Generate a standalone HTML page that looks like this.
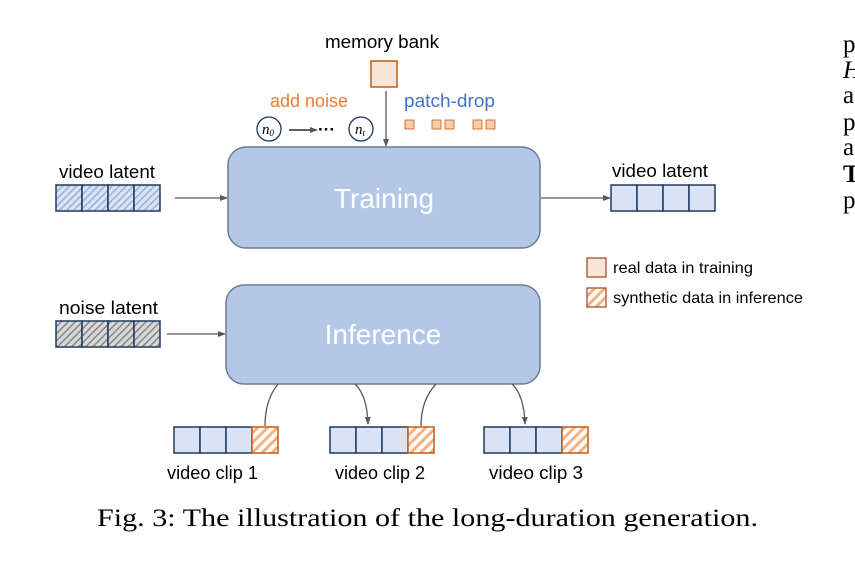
<!DOCTYPE html>
<html><head><meta charset="utf-8"><style>
html,body{margin:0;padding:0;background:#fff;}
svg{display:block;}
</style></head><body>
<svg width="855" height="570" viewBox="0 0 855 570" xmlns="http://www.w3.org/2000/svg">
<defs>
<pattern id="hb" width="5" height="5" patternUnits="userSpaceOnUse" patternTransform="rotate(45)">
<rect width="5" height="5" fill="#dae3f3"/><rect width="1.6" height="5" fill="#9db3d9"/></pattern>
<pattern id="hg" width="5" height="5" patternUnits="userSpaceOnUse" patternTransform="rotate(45)">
<rect width="5" height="5" fill="#d9d9d9"/><rect width="1.6" height="5" fill="#8a8a8a"/></pattern>
<pattern id="ho" width="7" height="7" patternUnits="userSpaceOnUse" patternTransform="rotate(45)">
<rect width="7" height="7" fill="#fff"/><rect width="3" height="7" fill="#f4b183"/></pattern>
<marker id="ar" markerWidth="8" markerHeight="8" refX="7" refY="4" orient="auto" markerUnits="userSpaceOnUse">
<path d="M0,1 L8,4 L0,7 z" fill="#595959"/></marker>
</defs>
<g font-family="Liberation Sans, sans-serif">
<text x="325" y="48" font-size="18" textLength="114" lengthAdjust="spacingAndGlyphs">memory bank</text>
<rect x="371" y="61" width="26" height="26" fill="#fbe5d6" stroke="#c55a11" stroke-width="1.5"/>
<line x1="386" y1="91" x2="386" y2="146" stroke="#595959" stroke-width="1.3" marker-end="url(#ar)"/>
<text x="270" y="107" font-size="18" fill="#ed7d31" textLength="78" lengthAdjust="spacingAndGlyphs">add noise</text>
<text x="404" y="107" font-size="18" fill="#4472c4" textLength="91" lengthAdjust="spacingAndGlyphs">patch-drop</text>
<g fill="#f8cbad" stroke="#c55a11" stroke-width="0.8">
<rect x="405" y="120" width="9" height="9"/><rect x="432" y="120" width="9" height="9"/><rect x="445" y="120" width="9" height="9"/>
<rect x="473" y="120" width="9" height="9"/><rect x="486" y="120" width="9" height="9"/></g>
<circle cx="269" cy="129" r="12" fill="none" stroke="#1f3864" stroke-width="1.3"/>
<text x="268" y="134" font-size="15" font-style="italic" font-family="Liberation Serif, serif" text-anchor="middle">n<tspan font-size="9" dy="2">0</tspan></text>
<line x1="289" y1="130" x2="317" y2="130" stroke="#000" stroke-width="1.3" marker-end="url(#ar)"/>
<text x="318" y="135" font-size="17" font-weight="bold">···</text>
<circle cx="361" cy="129" r="12" fill="none" stroke="#1f3864" stroke-width="1.3"/>
<text x="360" y="134" font-size="15" font-style="italic" font-family="Liberation Serif, serif" text-anchor="middle">n<tspan font-size="9" dy="2">t</tspan></text>
<rect x="228" y="147" width="312" height="101" rx="18" fill="#b4c7e7" stroke="#6b7b93" stroke-width="1.5"/>
<text x="384" y="208" font-size="28" text-anchor="middle" fill="#fff">Training</text>
<text x="59" y="178" font-size="18" textLength="96" lengthAdjust="spacingAndGlyphs">video latent</text>
<g stroke="#203864" stroke-width="1.5" fill="url(#hb)">
<rect x="56" y="185" width="26" height="26"/><rect x="82" y="185" width="26" height="26"/><rect x="108" y="185" width="26" height="26"/><rect x="134" y="185" width="26" height="26"/></g>
<line x1="175" y1="198" x2="227" y2="198" stroke="#595959" stroke-width="1.3" marker-end="url(#ar)"/>
<line x1="541" y1="198" x2="610" y2="198" stroke="#595959" stroke-width="1.3" marker-end="url(#ar)"/>
<text x="612" y="177" font-size="18" textLength="96" lengthAdjust="spacingAndGlyphs">video latent</text>
<g stroke="#203864" stroke-width="1.5" fill="#dae3f3">
<rect x="611" y="185" width="26" height="26"/><rect x="637" y="185" width="26" height="26"/><rect x="663" y="185" width="26" height="26"/><rect x="689" y="185" width="26" height="26"/></g>
<rect x="587" y="258" width="19" height="19" fill="#fbe5d6" stroke="#a0522d" stroke-width="1.3"/>
<text x="613" y="273" font-size="16" textLength="140" lengthAdjust="spacingAndGlyphs">real data in training</text>
<rect x="587" y="288" width="19" height="19" fill="url(#ho)" stroke="#a0522d" stroke-width="1.3"/>
<text x="613" y="303" font-size="16" textLength="190" lengthAdjust="spacingAndGlyphs">synthetic data in inference</text>
<text x="59" y="314" font-size="18" textLength="99" lengthAdjust="spacingAndGlyphs">noise latent</text>
<g stroke="#203864" stroke-width="1.5" fill="url(#hg)">
<rect x="56" y="321" width="26" height="26"/><rect x="82" y="321" width="26" height="26"/><rect x="108" y="321" width="26" height="26"/><rect x="134" y="321" width="26" height="26"/></g>
<line x1="167" y1="334" x2="225" y2="334" stroke="#595959" stroke-width="1.3" marker-end="url(#ar)"/>
<rect x="226" y="285" width="314" height="99" rx="18" fill="#b4c7e7" stroke="#6b7b93" stroke-width="1.5"/>
<text x="383" y="344" font-size="28" text-anchor="middle" fill="#fff">Inference</text>
<g stroke="#595959" stroke-width="1.3" fill="none">
<path d="M278,384 Q265,400 265,426"/>
<path d="M355,384 Q367,395 368,424" marker-end="url(#ar)"/>
<path d="M421,426 Q421,400 436,384"/>
<path d="M512,384 Q524,395 525,424" marker-end="url(#ar)"/>
</g>
<g stroke-width="1.5">
<g stroke="#203864" fill="#dae3f3">
<rect x="174" y="427" width="26" height="26"/><rect x="200" y="427" width="26" height="26"/><rect x="226" y="427" width="26" height="26"/>
<rect x="330" y="427" width="26" height="26"/><rect x="356" y="427" width="26" height="26"/><rect x="382" y="427" width="26" height="26"/>
<rect x="484" y="427" width="26" height="26"/><rect x="510" y="427" width="26" height="26"/><rect x="536" y="427" width="26" height="26"/></g>
<g stroke="#c55a11" fill="url(#ho)">
<rect x="252" y="427" width="26" height="26"/><rect x="408" y="427" width="26" height="26"/><rect x="562" y="427" width="26" height="26"/></g>
</g>
<text x="167" y="479" font-size="18" textLength="91" lengthAdjust="spacingAndGlyphs">video clip 1</text>
<text x="335" y="479" font-size="18" textLength="90" lengthAdjust="spacingAndGlyphs">video clip 2</text>
<text x="489" y="479" font-size="18" textLength="94" lengthAdjust="spacingAndGlyphs">video clip 3</text>
</g>
<g font-family="Liberation Serif, serif" font-size="25" fill="#000">
<text x="97" y="526" textLength="661" lengthAdjust="spacingAndGlyphs">Fig. 3: The illustration of the long-duration generation.</text>
<text x="843" y="52">p</text>
<text x="843" y="78" font-style="italic">H</text>
<text x="843" y="103">a</text>
<text x="843" y="130">p</text>
<text x="843" y="155">a</text>
<text x="843" y="182" font-weight="bold">T</text>
<text x="843" y="208">p</text>
</g>
</svg>
</body></html>
